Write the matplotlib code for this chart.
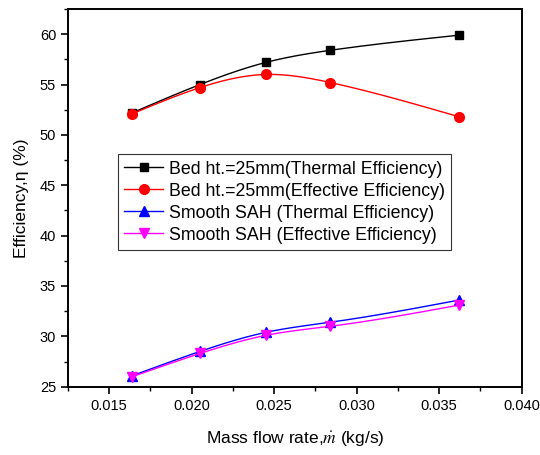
import numpy as np
import matplotlib
matplotlib.use("Agg")
import matplotlib.pyplot as plt
from matplotlib.ticker import MultipleLocator

plt.rcParams['font.family'] = ['Liberation Sans', 'DejaVu Sans']
plt.rcParams['mathtext.fontset'] = 'stix'

mass_flow = [0.0164, 0.0205, 0.0245, 0.0284, 0.0362]
bed_thermal = [52.2, 55.0, 57.2, 58.4, 59.9]
bed_effective = [52.1, 54.7, 56.0, 55.2, 51.8]
smooth_thermal = [26.1, 28.5, 30.4, 31.4, 33.6]
smooth_effective = [26.0, 28.3, 30.1, 31.0, 33.1]

labels = ["Bed ht.=25mm(Thermal Efficiency)",
          "Bed ht.=25mm(Effective Efficiency)",
          "Smooth SAH (Thermal Efficiency)",
          "Smooth SAH (Effective Efficiency)"]


def natural_spline(x, y, n=200):
    x = np.asarray(x, float); y = np.asarray(y, float)
    k = len(x); h = np.diff(x)
    A = np.zeros((k, k)); b = np.zeros(k)
    A[0, 0] = 1; A[-1, -1] = 1
    for i in range(1, k - 1):
        A[i, i - 1] = h[i - 1]
        A[i, i] = 2 * (h[i - 1] + h[i])
        A[i, i + 1] = h[i]
        b[i] = 6 * ((y[i + 1] - y[i]) / h[i] - (y[i] - y[i - 1]) / h[i - 1])
    M = np.linalg.solve(A, b)
    xs = np.linspace(x[0], x[-1], n)
    idx = np.clip(np.searchsorted(x, xs) - 1, 0, k - 2)
    x0 = x[idx]; x1 = x[idx + 1]; hh = x1 - x0
    ys = (M[idx] * (x1 - xs) ** 3 / (6 * hh) + M[idx + 1] * (xs - x0) ** 3 / (6 * hh)
          + (y[idx] / hh - M[idx] * hh / 6) * (x1 - xs)
          + (y[idx + 1] / hh - M[idx + 1] * hh / 6) * (xs - x0))
    return xs, ys


fig = plt.figure(figsize=(5.4, 4.55), dpi=100)
ax = fig.add_axes([68 / 540, 1 - 386.7 / 455, (521.7 - 68) / 540, (386.7 - 9) / 455])

series = [
    (bed_thermal, 'black', 's', 5.5),
    (bed_effective, 'red', 'o', 7),
    (smooth_thermal, 'blue', '^', 7),
    (smooth_effective, 'magenta', 'v', 7),
]
handles = []
for (vals, col, mk, ms), lab in zip(series, labels):
    xs, ys = natural_spline(mass_flow, vals)
    ax.plot(xs, ys, color=col, lw=1.0)
    ax.plot(mass_flow, vals, linestyle='none', marker=mk, color=col, ms=ms)
    h, = ax.plot([], [], color=col, lw=1.0, marker=mk, ms=ms, label=lab)
    handles.append(h)

ax.set_xlim(0.0125, 0.040)
ax.set_ylim(25, 62.5)
ax.xaxis.set_minor_locator(MultipleLocator(0.0025))
ax.yaxis.set_major_locator(MultipleLocator(5))
ax.yaxis.set_minor_locator(MultipleLocator(2.5))
ax.set_xticks([0.015, 0.020, 0.025, 0.030, 0.035, 0.040])
ax.set_xticklabels(['0.015', '0.020', '0.025', '0.030', '0.035', '0.040'])
ax.tick_params(which='both', direction='out', top=False, right=False, labelsize=10.5)
ax.tick_params(which='major', length=5, width=1.2)
ax.tick_params(which='minor', length=3, width=1.0)
for s in ax.spines.values():
    s.set_linewidth(1.4)

ax.set_xlabel(r"Mass flow rate,$\dot{m}$ (kg/s)", fontsize=12.5, labelpad=12)
ax.set_ylabel("Efficiency,η (%)", fontsize=12.5, labelpad=8)

leg = ax.legend(handles=handles, loc='upper left', bbox_to_anchor=(0.11, 0.615),
                fontsize=12.8, frameon=True, fancybox=False, edgecolor='black',
                handlelength=2.2, handletextpad=0.3, labelspacing=0.28,
                borderpad=0.35, borderaxespad=0)
leg.get_frame().set_linewidth(0.8)

fig.savefig("out.png", dpi=100)
